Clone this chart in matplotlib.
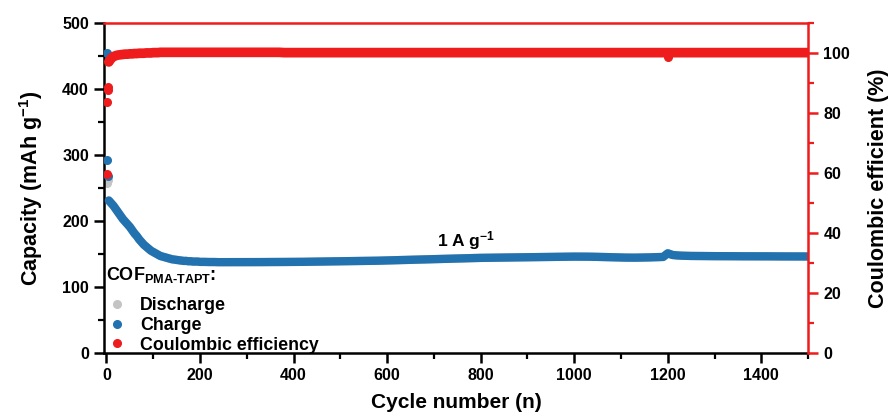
import numpy as np
import matplotlib
matplotlib.use("Agg")
import matplotlib.pyplot as plt
from matplotlib.ticker import MultipleLocator
from matplotlib.lines import Line2D

plt.rcParams['font.family'] = ['Liberation Sans', 'DejaVu Sans']
plt.rcParams['font.weight'] = 'bold'
plt.rcParams['mathtext.default'] = 'regular'

# ---- data ----
# first few cycles (outliers)
first_cyc = [1, 2, 3]
charge_first = [455, 293, 268]
discharge_first = [258, 265, 262]
ce_first = [59.5, 83.5, 87.5]
ce_cyc4 = [4]
ce_4 = [88.5]

# cycles 5..200 every 5
early_cyc = np.arange(5, 201, 5)
charge_early = [231, 227, 223, 218, 213, 208, 203, 199, 195, 191,
                186, 181, 177, 172, 168, 164, 161, 158, 155, 153,
                151, 149, 147, 146, 145, 144, 143, 142, 141.5, 141,
                140.5, 140, 139.5, 139.5, 139, 139, 138.5, 138.5, 138.5, 138]
ce_early = [97.0, 98.2, 98.8, 99.1, 99.3, 99.4, 99.5, 99.6, 99.6, 99.7,
            99.7, 99.8, 99.8, 99.9, 99.9, 99.9, 100.0, 100.0, 100.0, 100.1,
            100.1, 100.1, 100.2, 100.2, 100.2, 100.2, 100.2, 100.2, 100.2, 100.2,
            100.2, 100.2, 100.2, 100.2, 100.2, 100.2, 100.2, 100.2, 100.2, 100.2]

# cycles 210..1500 every 10
late_cyc = np.arange(210, 1501, 10)
charge_late = [138.0, 137.8, 137.8, 137.6, 137.6, 137.5, 137.5, 137.5, 137.6, 137.6,
               137.6, 137.7, 137.7, 137.8, 137.8, 137.8, 137.9, 137.9, 138.0, 138.0,
               138.0, 138.1, 138.2, 138.3, 138.4, 138.5, 138.6, 138.7, 138.8, 138.9,
               139.0, 139.1, 139.2, 139.3, 139.4, 139.5, 139.6, 139.8, 140.0, 140.2,
               140.4, 140.6, 140.8, 141.0, 141.2, 141.4, 141.6, 141.8, 142.0, 142.2,
               142.4, 142.6, 142.8, 143.0, 143.2, 143.4, 143.6, 143.8, 144.0, 144.1,
               144.2, 144.3, 144.4, 144.5, 144.6, 144.7, 144.8, 144.9, 145.0, 145.1,
               145.2, 145.3, 145.4, 145.5, 145.6, 145.7, 145.8, 145.9, 146.0, 146.0,
               146.0, 146.0, 145.9, 145.8, 145.6, 145.4, 145.2, 145.0, 144.8, 144.6,
               144.5, 144.4, 144.4, 144.5, 144.6, 144.8, 145.0, 145.2, 145.5, 151.0,
               148.5, 147.8, 147.4, 147.2, 147.0, 147.0, 146.9, 146.8, 146.8, 146.7,
               146.7, 146.6, 146.6, 146.6, 146.5, 146.5, 146.5, 146.5, 146.4, 146.4,
               146.4, 146.4, 146.3, 146.3, 146.3, 146.3, 146.2, 146.2, 146.2, 146.2]
ce_late = [100.2, 100.2, 100.2, 100.2, 100.2, 100.2, 100.2, 100.2, 100.2, 100.2,
           100.2, 100.2, 100.2, 100.2, 100.2, 100.2, 100.2, 100.1, 100.1, 100.1,
           100.1, 100.1, 100.1, 100.1, 100.1, 100.1, 100.1, 100.1, 100.1, 100.1,
           100.1, 100.1, 100.1, 100.1, 100.1, 100.1, 100.1, 100.1, 100.1, 100.1,
           100.1, 100.1, 100.1, 100.1, 100.1, 100.1, 100.1, 100.1, 100.1, 100.1,
           100.1, 100.1, 100.1, 100.1, 100.1, 100.1, 100.1, 100.1, 100.1, 100.1,
           100.1, 100.1, 100.1, 100.1, 100.1, 100.1, 100.1, 100.1, 100.1, 100.1,
           100.1, 100.1, 100.1, 100.1, 100.1, 100.1, 100.1, 100.1, 100.1, 100.1,
           100.1, 100.1, 100.1, 100.1, 100.1, 100.1, 100.1, 100.1, 100.1, 100.1,
           100.1, 100.1, 100.1, 100.1, 100.1, 100.1, 100.1, 100.1, 100.1, 100.1,
           100.1, 100.1, 100.1, 100.1, 100.1, 100.1, 100.1, 100.1, 100.1, 100.1,
           100.1, 100.1, 100.1, 100.1, 100.1, 100.1, 100.1, 100.1, 100.1, 100.1,
           100.1, 100.1, 100.1, 100.1, 100.1, 100.1, 100.1, 100.1, 100.1, 100.1]
# single low CE point near cycle 1200
ce_dip_cyc = [1200]
ce_dip = [98.6]

c_gray = '#c4c4c4'
c_blue = '#2272b0'
c_red = '#ee1c1c'

fig = plt.figure(figsize=(8.9, 4.17), dpi=100)
ax = fig.add_axes([0.117, 0.1535, 0.791, 0.7915])
ax2 = ax.twinx()

ms = 30
cyc_all = np.concatenate([early_cyc, late_cyc])
charge_all = charge_early + charge_late
ce_all = ce_early + ce_late

# discharge (mostly hidden under charge)
ax.scatter(first_cyc, discharge_first, s=ms, color=c_gray, zorder=2)
ax.plot(cyc_all, charge_all, '-', color=c_gray, lw=6, solid_capstyle='round', zorder=2)
# charge
ax.scatter(first_cyc, charge_first, s=ms, color=c_blue, zorder=3)
ax.plot(cyc_all, charge_all, '-', color=c_blue, lw=6, solid_capstyle='round', zorder=3)
# coulombic efficiency
ax2.scatter(first_cyc, ce_first, s=ms, color=c_red, zorder=3)
ax2.scatter(ce_cyc4, ce_4, s=ms, color=c_red, zorder=3)
ax2.plot(cyc_all, ce_all, '-', color=c_red, lw=7, solid_capstyle='round', zorder=3)
ax2.scatter(ce_dip_cyc, ce_dip, s=ms, color=c_red, zorder=3)

ax.set_xlim(-5, 1500)
ax.set_ylim(0, 500)
ax2.set_ylim(0, 110)

ax.xaxis.set_major_locator(MultipleLocator(200))
ax.xaxis.set_minor_locator(MultipleLocator(100))
ax.yaxis.set_major_locator(MultipleLocator(100))
ax.yaxis.set_minor_locator(MultipleLocator(50))
ax2.yaxis.set_major_locator(MultipleLocator(20))
ax2.yaxis.set_minor_locator(MultipleLocator(10))

for a in (ax, ax2):
    for s in a.spines.values():
        s.set_linewidth(1.8)
ax.spines['right'].set_visible(False)
ax.spines['top'].set_visible(False)
ax2.spines['left'].set_visible(False)
ax2.spines['bottom'].set_visible(False)
ax2.spines['right'].set_color(c_red)
ax2.spines['top'].set_color(c_red)

ax.tick_params(axis='both', which='major', direction='out', length=7, width=1.8,
               labelsize=11.5, pad=4)
ax.tick_params(axis='both', which='minor', direction='out', length=4, width=1.6)
ax2.tick_params(axis='y', which='major', direction='out', length=7, width=1.8,
                labelsize=11.5, color=c_red, pad=4)
ax2.tick_params(axis='y', which='minor', direction='out', length=4, width=1.6,
                color=c_red)

ax.set_xlabel('Cycle number (n)', fontsize=15, fontweight='bold', labelpad=7)
ax.set_ylabel('Capacity (mAh g$^{-1}$)', fontsize=15.5, fontweight='bold', labelpad=12)
ax2.set_ylabel('Coulombic efficient (%)', fontsize=15.5, fontweight='bold', labelpad=13)

ax.text(769, 170, '1 A g$^{-1}$', fontsize=12.5, fontweight='bold', ha='center', va='center')

handles = [Line2D([], [], ls='none', marker='o', ms=5.5, color=c) for c in (c_gray, c_blue, c_red)]
labels = ['Discharge', 'Charge', 'Coulombic efficiency']
leg = ax.legend(handles, labels, loc='lower left', bbox_to_anchor=(-0.017, -0.045),
                frameon=False, title='COF$_{PMA\u2010TAPT}$:',
                prop={'weight': 'bold', 'size': 12.8},
                title_fontproperties={'weight': 'bold', 'size': 13},
                handlelength=1.2, handletextpad=0.7, labelspacing=0.15,
                borderpad=0.3, alignment='left')
leg._legend_box.sep = 9

fig.savefig('out.png', dpi=100)
